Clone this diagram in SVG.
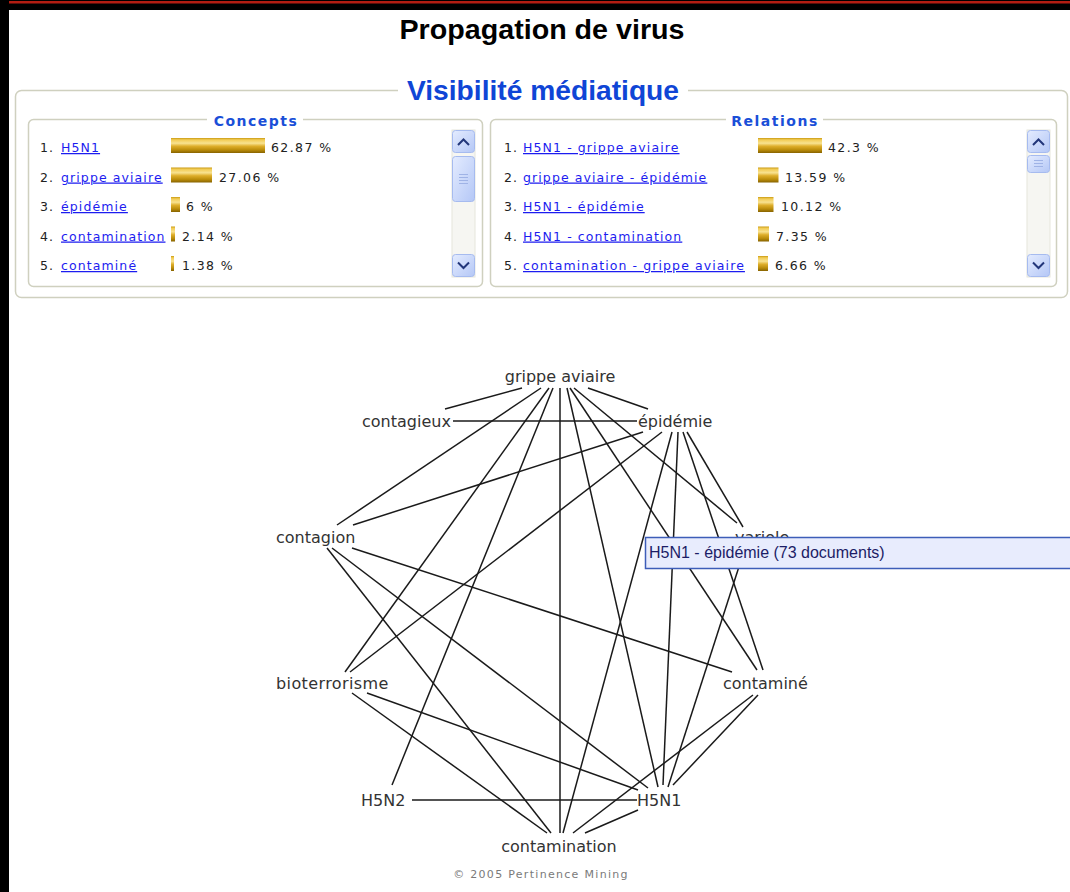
<svg xmlns="http://www.w3.org/2000/svg" width="1070" height="892" viewBox="0 0 1070 892">
<defs>
<linearGradient id="bar" x1="0" y1="0" x2="0" y2="1">
<stop offset="0" stop-color="#c99a12"/>
<stop offset="0.12" stop-color="#f2cc55"/>
<stop offset="0.35" stop-color="#f8e290"/>
<stop offset="0.55" stop-color="#deae2a"/>
<stop offset="0.8" stop-color="#b98b0a"/>
<stop offset="1" stop-color="#876300"/>
</linearGradient>
<linearGradient id="btn" x1="0" y1="0" x2="1" y2="1">
<stop offset="0" stop-color="#e4ecff"/>
<stop offset="1" stop-color="#b4c7f6"/>
</linearGradient>
<style>
.frame{fill:none;stroke:#cfd0bf;stroke-width:1.5}
.gap{fill:#ffffff}
.legend{font-family:"DejaVu Sans",Verdana,sans-serif;font-weight:bold;font-size:14px;fill:#1a4fd8;letter-spacing:1.5px;text-anchor:middle}
.num{font-family:"DejaVu Sans",Verdana,sans-serif;font-size:12.5px;fill:#222;letter-spacing:1.1px}
.lnk{font-family:"DejaVu Sans",Verdana,sans-serif;font-size:12.5px;fill:#1c1cf0;letter-spacing:1.1px;text-decoration:underline}
.pct{font-family:"DejaVu Sans",Verdana,sans-serif;font-size:12.5px;fill:#222;letter-spacing:1.4px}
.bar{fill:url(#bar)}
.sbtrack{fill:#f6f6f2;stroke:#e6e6dc;stroke-width:1}
.sbbtn{fill:url(#btn);stroke:#a6bbef;stroke-width:1}
.chev{fill:none;stroke:#22367a;stroke-width:2}
.grip{stroke:#9fb3e6;stroke-width:1}
.lbl{font-family:"DejaVu Sans",Verdana,sans-serif;font-size:16px;fill:#333}
#connectors line{stroke:#1a1a1a;stroke-width:1.5}
</style>
</defs>
<rect x="0" y="0" width="1070" height="892" fill="#ffffff"/>
<rect x="0" y="0" width="1070" height="10" fill="#000"/>
<rect x="0" y="1" width="1070" height="2.5" fill="#b31d12"/>
<rect x="0" y="0" width="9" height="892" fill="#000"/>

<text x="542" y="39" font-family="Liberation Sans,Arial,sans-serif" font-weight="bold" font-size="28" fill="#000" text-anchor="middle" textLength="285" lengthAdjust="spacingAndGlyphs">Propagation de virus</text>

<g id="visibilite">
<rect class="frame" x="15.5" y="90.5" width="1052" height="207" rx="6"/>
<rect class="gap" x="398" y="84" width="290" height="12"/>
<text x="543" y="100" font-family="Liberation Sans,Arial,sans-serif" font-weight="bold" font-size="28" fill="#0f45d6" text-anchor="middle" textLength="272" lengthAdjust="spacingAndGlyphs">Visibilité médiatique</text>
</g>

<g id="concepts">
<rect class="frame" x="28.5" y="119.5" width="454" height="167" rx="5"/>
<rect class="gap" x="207" y="113" width="96" height="12"/>
<text class="legend" x="256" y="126">Concepts</text>
<text class="num" x="40" y="152">1.</text><text class="lnk" x="61" y="152">H5N1</text>
<rect class="bar" x="171" y="138" width="94" height="15"/><text class="pct" x="271" y="152">62.87 %</text>
<text class="num" x="40" y="181.5">2.</text><text class="lnk" x="61" y="181.5">grippe aviaire</text>
<rect class="bar" x="171" y="167.5" width="41" height="15"/><text class="pct" x="219" y="181.5">27.06 %</text>
<text class="num" x="40" y="211">3.</text><text class="lnk" x="61" y="211">épidémie</text>
<rect class="bar" x="171" y="197" width="9" height="15"/><text class="pct" x="186" y="211">6 %</text>
<text class="num" x="40" y="240.5">4.</text><text class="lnk" x="61" y="240.5">contamination</text>
<rect class="bar" x="171" y="226.5" width="4" height="15"/><text class="pct" x="182" y="240.5">2.14 %</text>
<text class="num" x="40" y="270">5.</text><text class="lnk" x="61" y="270">contaminé</text>
<rect class="bar" x="171" y="256" width="3" height="15"/><text class="pct" x="182" y="270">1.38 %</text>
<rect class="sbtrack" x="452" y="130" width="23" height="147"/>
<rect class="sbbtn" x="452.5" y="130.5" width="22" height="22" rx="3"/>
<polyline class="chev" points="458,145 463.5,139.5 469,145"/>
<rect class="sbbtn" x="452.5" y="156.5" width="22" height="45" rx="3"/>
<line class="grip" x1="459" y1="174.5" x2="468" y2="174.5"/><line class="grip" x1="459" y1="177.5" x2="468" y2="177.5"/><line class="grip" x1="459" y1="180.5" x2="468" y2="180.5"/><line class="grip" x1="459" y1="183.5" x2="468" y2="183.5"/>
<rect class="sbbtn" x="452.5" y="254.5" width="22" height="22" rx="3"/>
<polyline class="chev" points="458,262.5 463.5,268 469,262.5"/>
</g>

<g id="relations">
<rect class="frame" x="490.5" y="119.5" width="566" height="167" rx="5"/>
<rect class="gap" x="726" y="113" width="97" height="12"/>
<text class="legend" x="775" y="126">Relations</text>
<text class="num" x="504" y="152">1.</text><text class="lnk" x="523" y="152">H5N1 - grippe aviaire</text>
<rect class="bar" x="758" y="138" width="64" height="15"/><text class="pct" x="828" y="152">42.3 %</text>
<text class="num" x="504" y="181.5">2.</text><text class="lnk" x="523" y="181.5">grippe aviaire - épidémie</text>
<rect class="bar" x="758" y="167.5" width="20.5" height="15"/><text class="pct" x="785" y="181.5">13.59 %</text>
<text class="num" x="504" y="211">3.</text><text class="lnk" x="523" y="211">H5N1 - épidémie</text>
<rect class="bar" x="758" y="197" width="15.5" height="15"/><text class="pct" x="781" y="211">10.12 %</text>
<text class="num" x="504" y="240.5">4.</text><text class="lnk" x="523" y="240.5">H5N1 - contamination</text>
<rect class="bar" x="758" y="226.5" width="11" height="15"/><text class="pct" x="776" y="240.5">7.35 %</text>
<text class="num" x="504" y="270">5.</text><text class="lnk" x="523" y="270">contamination - grippe aviaire</text>
<rect class="bar" x="758" y="256" width="10" height="15"/><text class="pct" x="775" y="270">6.66 %</text>
<rect class="sbtrack" x="1027" y="130" width="23" height="147"/>
<rect class="sbbtn" x="1027.5" y="130.5" width="22" height="22" rx="3"/>
<polyline class="chev" points="1033,145 1038.5,139.5 1044,145"/>
<rect class="sbbtn" x="1027.5" y="155.5" width="22" height="17" rx="3"/>
<line class="grip" x1="1034" y1="160.5" x2="1043" y2="160.5"/><line class="grip" x1="1034" y1="163.5" x2="1043" y2="163.5"/><line class="grip" x1="1034" y1="166.5" x2="1043" y2="166.5"/>
<rect class="sbbtn" x="1027.5" y="254.5" width="22" height="22" rx="3"/>
<polyline class="chev" points="1033,262.5 1038.5,268 1044,262.5"/>
</g>

<g id="connectors">
<line x1="522" y1="388" x2="445" y2="409"/>
<line x1="588" y1="388" x2="648" y2="409"/>
<line x1="541" y1="388" x2="337" y2="525"/>
<line x1="549" y1="388" x2="345" y2="672"/>
<line x1="553" y1="388" x2="392" y2="785"/>
<line x1="560" y1="388" x2="560" y2="833"/>
<line x1="567" y1="388" x2="658" y2="787"/>
<line x1="570" y1="388" x2="757" y2="670"/>
<line x1="574" y1="388" x2="737" y2="523"/>
<line x1="453" y1="421" x2="637" y2="421"/>
<line x1="643" y1="432" x2="353" y2="525"/>
<line x1="662" y1="432" x2="350" y2="672"/>
<line x1="672" y1="432" x2="563" y2="833"/>
<line x1="678" y1="432" x2="663" y2="785"/>
<line x1="687" y1="432" x2="743" y2="527"/>
<line x1="683" y1="432" x2="763" y2="670"/>
<line x1="352" y1="548" x2="732" y2="672"/>
<line x1="327" y1="548" x2="551" y2="833"/>
<line x1="332" y1="548" x2="648" y2="788"/>
<line x1="352" y1="693" x2="547" y2="833"/>
<line x1="367" y1="693" x2="638" y2="790"/>
<line x1="412" y1="800" x2="637" y2="800"/>
<line x1="745" y1="548" x2="668" y2="787"/>
<line x1="758" y1="695" x2="673" y2="785"/>
<line x1="753" y1="695" x2="573" y2="833"/>
<line x1="638" y1="810" x2="585" y2="833"/>
</g>

<g id="n-grippe-aviaire"><text class="lbl" x="560" y="382" text-anchor="middle">grippe aviaire</text></g>
<g id="n-contagieux"><text class="lbl" x="362" y="426.5">contagieux</text></g>
<g id="n-epidemie"><text class="lbl" x="638" y="426.5">épidémie</text></g>
<g id="n-contagion"><text class="lbl" x="276" y="543">contagion</text></g>
<g id="n-variole"><text class="lbl" x="735" y="543">variole</text></g>
<g id="n-bioterrorisme"><text class="lbl" x="276" y="689" letter-spacing="0.4">bioterrorisme</text></g>
<g id="n-contamine"><text class="lbl" x="723" y="689">contaminé</text></g>
<g id="n-h5n2"><text class="lbl" x="361" y="806">H5N2</text></g>
<g id="n-h5n1"><text class="lbl" x="637" y="806">H5N1</text></g>
<g id="n-contamination"><text class="lbl" x="559" y="852" text-anchor="middle">contamination</text></g>

<g id="tooltip">
<rect x="645.5" y="537.5" width="430" height="31" fill="#e8ecfd" stroke="#3d5db8" stroke-width="1.5"/>
<text x="649" y="558" font-family="Liberation Sans,Arial,sans-serif" font-size="16" fill="#1c1c66">H5N1 - épidémie (73 documents)</text>
</g>

<text x="541" y="878" font-family="DejaVu Sans,Verdana,sans-serif" font-size="11" fill="#7a7a7a" letter-spacing="1.3" text-anchor="middle">© 2005 Pertinence Mining</text>
</svg>
